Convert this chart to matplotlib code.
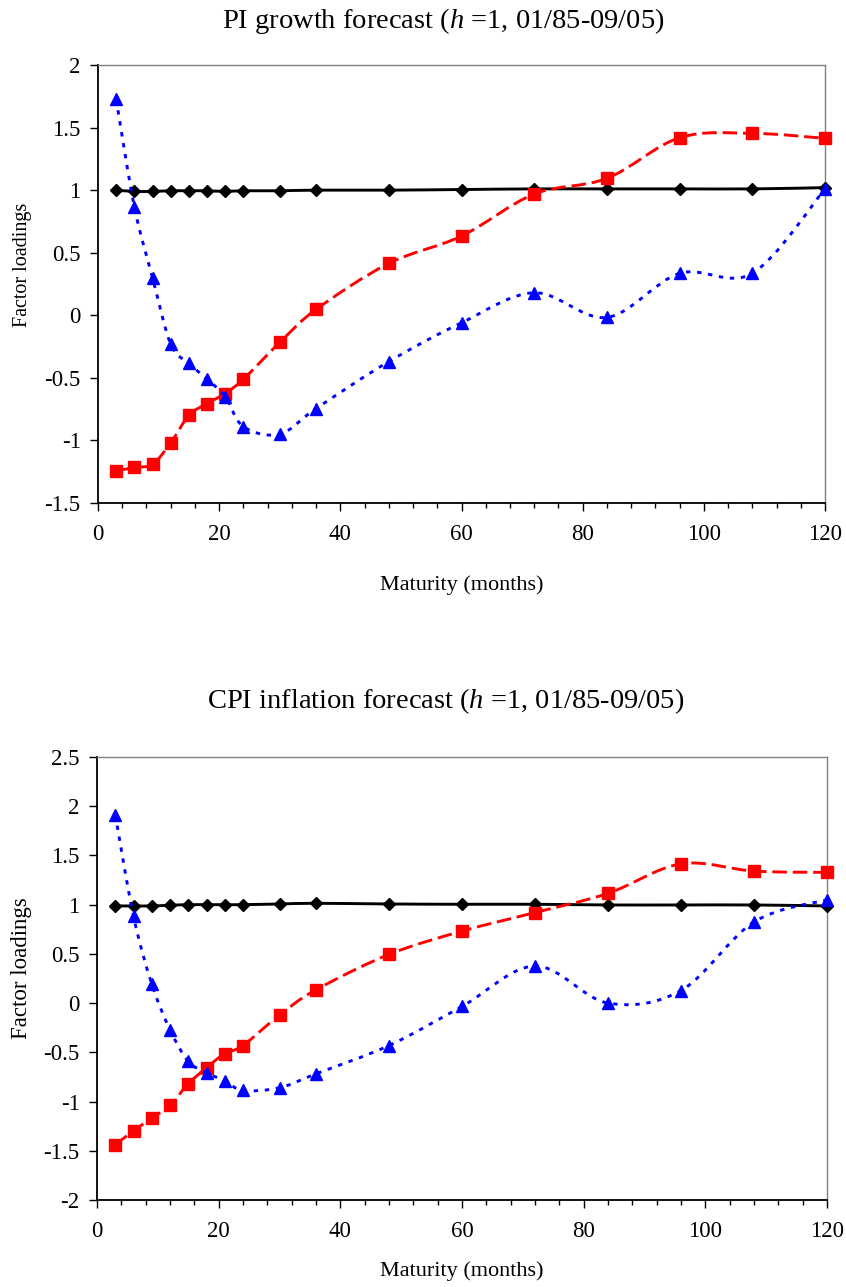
"""
Factor loadings por maturidade (PI growth e CPI inflation, h=1).
Gera out.png com os dois painéis empilhados.
"""

import numpy as np
import matplotlib
matplotlib.use("Agg")
import matplotlib.pyplot as plt
from matplotlib.path import Path
from matplotlib.patches import PathPatch
from matplotlib.ticker import MultipleLocator, FuncFormatter

# maturidades em meses (eixo x)
MATURIDADES = [3, 6, 9, 12, 15, 18, 21, 24, 30, 36, 48, 60, 72, 84, 96, 108, 120]

# painel de cima: PI growth
PI_NIVEL = [1.0, 0.99, 0.99, 0.995, 0.995, 0.995, 0.99, 0.995, 0.995, 1.0,
            1.0, 1.005, 1.01, 1.01, 1.01, 1.01, 1.02]
PI_INCLINACAO = [-1.244, -1.216, -1.19, -1.02, -0.80, -0.705, -0.625, -0.51,
                 -0.217, 0.047, 0.415, 0.633, 0.969, 1.094, 1.419, 1.454, 1.414]
PI_CURVATURA = [1.726, 0.867, 0.30, -0.23, -0.385, -0.51, -0.65, -0.89,
                -0.95, -0.745, -0.37, -0.06, 0.18, -0.017, 0.335, 0.335, 1.01]

# painel de baixo: CPI inflation
CPI_NIVEL = [0.987, 0.987, 0.987, 0.994, 1.0, 1.0, 1.0, 1.0, 1.007, 1.014,
             1.007, 1.004, 1.004, 0.997, 0.997, 0.997, 0.987]
CPI_INCLINACAO = [-1.439, -1.297, -1.169, -1.038, -0.819, -0.657, -0.512, -0.431,
                  -0.121, 0.135, 0.495, 0.731, 0.92, 1.115, 1.415, 1.341, 1.328]
CPI_CURVATURA = [1.914, 0.883, 0.195, -0.27, -0.59, -0.708, -0.79, -0.886,
                 -0.86, -0.718, -0.431, -0.034, 0.377, 0.0, 0.128, 0.825, 1.05]

TITULOS = [r"PI growth forecast ($h$ =1, 01/85-09/05)",
           r"CPI inflation forecast ($h$ =1, 01/85-09/05)"]

LARGURA, ALTURA = 846, 1287

plt.rcParams["font.family"] = ["Liberation Serif", "DejaVu Serif"]
plt.rcParams["mathtext.fontset"] = "custom"
plt.rcParams["mathtext.rm"] = "Liberation Serif"
plt.rcParams["mathtext.it"] = "Liberation Serif:italic"
plt.rcParams["axes.unicode_minus"] = False


def caminho_suave(x, y):
    """Curva de Bezier passando pelos pontos (como a 'linha suavizada' do Excel)."""
    pts = np.column_stack([np.asarray(x, float), np.asarray(y, float)])
    n = len(pts)
    verts = [pts[0]]
    codes = [Path.MOVETO]
    for i in range(n - 1):
        p0 = pts[max(i - 1, 0)]
        p1 = pts[i]
        p2 = pts[i + 1]
        p3 = pts[min(i + 2, n - 1)]
        verts += [p1 + (p2 - p0) / 6, p2 - (p3 - p1) / 6, p2]
        codes += [Path.CURVE4] * 3
    return Path(verts, codes)


def desenhar_serie(ax, y, cor, estilo, marcador, tam, z):
    ax.add_patch(PathPatch(caminho_suave(MATURIDADES, y), fill=False, edgecolor=cor,
                           linewidth=2.1, linestyle=estilo, capstyle="butt", zorder=z))
    ax.plot(MATURIDADES, y, linestyle="none", marker=marcador, markersize=tam,
            color=cor, markeredgecolor=cor, zorder=z + 0.5, clip_on=False)


def painel(ax, nivel, inclinacao, curvatura, ymin, ymax):
    desenhar_serie(ax, nivel, "black", "-", "D", 6.5, 3)
    desenhar_serie(ax, inclinacao, "#ff0000", (0, (5, 2)), "s", 8.0, 4)
    desenhar_serie(ax, curvatura, "#0000ff", (0, (1.5, 2.3)), "^", 9.0, 5)

    ax.set_xlim(0, 120)
    ax.set_ylim(ymin, ymax)
    ax.xaxis.set_major_locator(MultipleLocator(20))
    ax.xaxis.set_minor_locator(MultipleLocator(4))
    ax.yaxis.set_major_locator(MultipleLocator(0.5))
    ax.yaxis.set_major_formatter(FuncFormatter(lambda v, p: f"{v:g}"))
    ax.tick_params(axis="both", which="major", direction="out", length=6,
                   width=1.0, labelsize=16.5, color="black")
    ax.tick_params(axis="x", which="major", pad=9)
    ax.tick_params(axis="y", which="major", pad=6.5)
    ax.tick_params(axis="x", which="minor", direction="out", length=3.5, width=1.0)

    for lado in ("left", "bottom"):
        ax.spines[lado].set_color("black")
        ax.spines[lado].set_linewidth(1.3)
    for lado in ("top", "right"):
        ax.spines[lado].set_color("#808080")
        ax.spines[lado].set_linewidth(1.0)


fig = plt.figure(figsize=(LARGURA / 100, ALTURA / 100), dpi=100)


def eixo(esq, dir, topo, base):
    return fig.add_axes([esq / LARGURA, 1 - base / ALTURA,
                         (dir - esq) / LARGURA, (base - topo) / ALTURA])


ax1 = eixo(98, 825, 65, 503)
painel(ax1, PI_NIVEL, PI_INCLINACAO, PI_CURVATURA, -1.5, 2.0)

ax2 = eixo(97, 827, 757, 1200)
painel(ax2, CPI_NIVEL, CPI_INCLINACAO, CPI_CURVATURA, -2.0, 2.5)

# títulos e rótulos dos eixos
fig.text(443 / LARGURA, 1 - 28.5 / ALTURA, TITULOS[0], ha="center", va="baseline", fontsize=20.5)
fig.text(446 / LARGURA, 1 - 708 / ALTURA, TITULOS[1], ha="center", va="baseline", fontsize=20.5)

fig.text(461.5 / LARGURA, 1 - 590 / ALTURA, "Maturity (months)", ha="center", va="baseline", fontsize=16)
fig.text(462 / LARGURA, 1 - 1276 / ALTURA, "Maturity (months)", ha="center", va="baseline", fontsize=16)

fig.text(23 / LARGURA, 1 - 265 / ALTURA, "Factor loadings", rotation=90,
         ha="center", va="center", fontsize=14.5)
fig.text(22 / LARGURA, 1 - 968 / ALTURA, "Factor loadings", rotation=90,
         ha="center", va="center", fontsize=16.5)

fig.savefig("out.png", dpi=100)
